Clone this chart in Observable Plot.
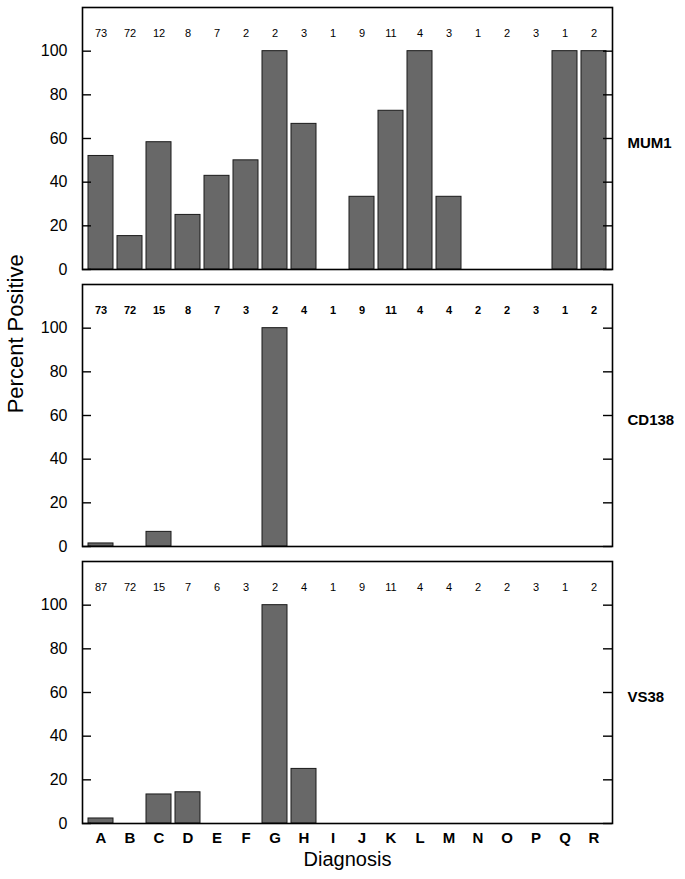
<!DOCTYPE html>
<html><head><meta charset="utf-8">
<script src="https://cdn.jsdelivr.net/npm/d3@7"></script>
<script src="https://cdn.jsdelivr.net/npm/@observablehq/plot@0.6"></script>
<style>body{margin:0;background:#fff}</style>
</head><body><div id="chart"></div>
<script>
const categories = ["A","B","C","D","E","F","G","H","I","J","K","L","M","N","O","P","Q","R"];
const panels = ["MUM1","CD138","VS38"];
const mum1Pct = [52,15.3,58.3,25,42.9,50,100,66.7,0,33.3,72.7,100,33.3,0,0,0,100,100];
const mum1N   = [73,72,12,8,7,2,2,3,1,9,11,4,3,1,2,3,1,2];
const cd138Pct = [1.4,0,6.7,0,0,0,100,0,0,0,0,0,0,0,0,0,0,0];
const cd138N   = [73,72,15,8,7,3,2,4,1,9,11,4,4,2,2,3,1,2];
const vs38Pct = [2.3,0,13.3,14.3,0,0,100,25,0,0,0,0,0,0,0,0,0,0];
const vs38N   = [87,72,15,7,6,3,2,4,1,9,11,4,4,2,2,3,1,2];
const yTicks = [0,20,40,60,80,100];
const yLabel = "Percent Positive";
const xLabel = "Diagnosis";

const series = {MUM1: [mum1Pct, mum1N], CD138: [cd138Pct, cd138N], VS38: [vs38Pct, vs38N]};
const rows = [];
for (const p of panels) {
  const [pct, n] = series[p];
  categories.forEach((c, i) => rows.push({panel: p, cat: c, value: pct[i], n: n[i]}));
}

const chart = Plot.plot({
  width: 685, height: 879,
  marginLeft: 82, marginRight: 73, marginTop: 6, marginBottom: 55,
  style: {fontFamily: "'Liberation Sans', Arial, sans-serif", background: "#fff", color: "#000", overflow: "visible"},
  x: {domain: categories, paddingInner: 0.14, paddingOuter: 0.05, axis: null},
  y: {domain: [0, 120], axis: null},
  fy: {domain: panels, axis: null, paddingInner: 0.055, paddingOuter: 0},
  marks: [
    Plot.barY(rows, {filter: d => d.value > 0, x: "cat", y: "value", fy: "panel", fill: "#686868", stroke: "#1a1a1a", strokeWidth: 1}),
    Plot.frame({stroke: "#000", strokeWidth: 1.6}),
    Plot.tickY(yTicks, {y: d => d, insetRight: 521, stroke: "#000", strokeWidth: 1.4}),
    Plot.tickY(yTicks, {y: d => d, insetLeft: 521, stroke: "#000", strokeWidth: 1.4}),
    Plot.axisY(yTicks, {tickSize: 0, tickPadding: 15, fontSize: 16, label: null}),
    Plot.axisX({tickSize: 0, tickPadding: 9, fontSize: 15, fontWeight: "bold", label: null}),
    Plot.text(rows, {filter: d => d.panel !== "CD138", x: "cat", y: 108, fy: "panel", text: d => String(d.n), fontSize: 11}),
    Plot.text(rows, {filter: d => d.panel === "CD138", x: "cat", y: 108, fy: "panel", text: d => String(d.n), fontSize: 11, fontWeight: "bold"}),
    Plot.text(panels, {fy: d => d, y: 58, frameAnchor: "right", dx: 15, textAnchor: "start", text: d => d, fontSize: 15, fontWeight: "bold"}),
    Plot.text(["CD138"], {fy: d => d, y: 61, frameAnchor: "left", dx: -67, rotate: -90, text: () => yLabel, fontSize: 22}),
    Plot.text(["VS38"], {fy: d => d, frameAnchor: "bottom", dy: 42, text: () => xLabel, fontSize: 20})
  ]
});
document.getElementById("chart").append(chart);
</script>
</body></html>
